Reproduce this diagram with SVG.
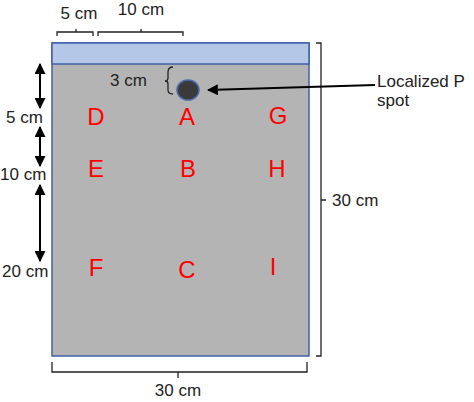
<svg xmlns="http://www.w3.org/2000/svg" width="474" height="402" viewBox="0 0 474 402">
<style>
.lbl{font-family:"Liberation Sans",Arial,sans-serif;font-size:17px;fill:#222}
.pt{font-family:"Liberation Sans",Arial,sans-serif;font-size:24px;fill:#ff0000;text-anchor:middle}
.br{fill:none;stroke:#222;stroke-width:1.3}
.ar{fill:none;stroke:#000;stroke-width:2}
</style>
<defs>
<marker id="ah" viewBox="0 0 10 10" refX="9" refY="5" markerWidth="5.5" markerHeight="5.5" orient="auto-start-reverse" markerUnits="strokeWidth">
<path d="M0,0 L10,5 L0,10 z" fill="#000"/>
</marker>
</defs>
<rect width="474" height="402" fill="#fff"/>
<g id="plot">
<rect x="52" y="43" width="257" height="313" fill="#b4b4b4" stroke="#4060a8" stroke-width="1.5"/>
<rect x="52" y="43" width="257" height="21" fill="#b4c7e7" stroke="#4060a8" stroke-width="1.5"/>
</g>
<g id="spot">
<ellipse cx="188" cy="90" rx="11" ry="10" fill="#3a3a3a" stroke="#4a6aa8" stroke-width="1.5"/>
</g>
<g id="points">
<text class="pt" x="96" y="125">D</text>
<text class="pt" x="187" y="125">A</text>
<text class="pt" x="278" y="124">G</text>
<text class="pt" x="96" y="177">E</text>
<text class="pt" x="188" y="177">B</text>
<text class="pt" x="277" y="177">H</text>
<text class="pt" x="96" y="276">F</text>
<text class="pt" x="187" y="278">C</text>
<text class="pt" x="273" y="275">I</text>
</g>
<g id="connectors">
<path class="br" d="M57,36 V32 H93 V36 M76,32 V29"/>
<path class="br" d="M98,36 V32 H183 V36 M141,32 V29"/>
<path class="br" d="M316,43 H321 V356 H316 M321,200 H326"/>
<path class="br" d="M52,362 V372 H307 V362 M178,372 V378"/>
<path class="br" d="M173,67 Q168,67 168,72 V78 Q168,81 165,81 Q168,81 168,84 V90 Q168,94 173,94"/>
<path class="ar" d="M375,85 L208,90" marker-end="url(#ah)" stroke-width="1.8"/>
<path class="ar" d="M40,64 V108" marker-start="url(#ah)" marker-end="url(#ah)"/>
<path class="ar" d="M40,127 V166" marker-start="url(#ah)" marker-end="url(#ah)"/>
<path class="ar" d="M40,185 V261" marker-start="url(#ah)" marker-end="url(#ah)"/>
</g>
<g id="labels">
<text class="lbl" x="79" y="19" text-anchor="middle">5 cm</text>
<text class="lbl" x="141" y="15" text-anchor="middle">10 cm</text>
<text class="lbl" x="110" y="86">3 cm</text>
<text class="lbl" x="6" y="123">5 cm</text>
<text class="lbl" x="0" y="180">10 cm</text>
<text class="lbl" x="2" y="277">20 cm</text>
<text class="lbl" x="332" y="206">30 cm</text>
<text class="lbl" x="178" y="396" text-anchor="middle">30 cm</text>
<text class="lbl" x="377" y="87">Localized P</text>
<text class="lbl" x="377" y="106">spot</text>
</g>
</svg>
